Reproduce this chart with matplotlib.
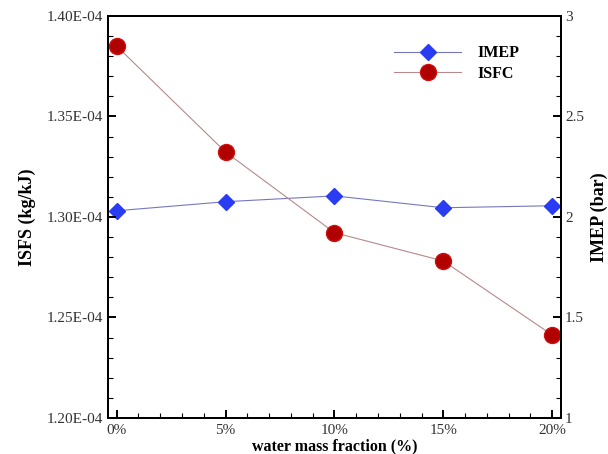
import matplotlib.pyplot as plt
from matplotlib.ticker import MultipleLocator, FuncFormatter

# Water mass fraction (%) and measured results
water_frac = [0, 5, 10, 15, 20]
isfc = [1.385e-4, 1.3323e-4, 1.2922e-4, 1.2781e-4, 1.2413e-4]   # kg/kJ
imep = [2.031, 2.076, 2.105, 2.046, 2.056]                       # bar

plt.rcParams['font.family'] = ['Liberation Serif', 'DejaVu Serif']

fig = plt.figure(figsize=(6.08, 4.54), dpi=100)
ax1 = fig.add_axes([0.1776, 0.0793, 0.745, 0.8855])
ax2 = ax1.twinx()

l1, = ax2.plot(water_frac, imep, '-', color='#7478c0', lw=0.8,
               marker='D', ms=8.5, mfc='#2a3cf2', mec='#2a3cf2', label='IMEP')
l2, = ax1.plot(water_frac, isfc, '-', color='#b58a8a', lw=0.8,
               marker='o', ms=11.5, mfc='#b00000', mec='#d01010', label='ISFC')
ax1.set_zorder(ax2.get_zorder() + 1)
ax1.patch.set_visible(False)

ax1.set_xlim(-0.4, 20.4)
ax1.set_ylim(1.20e-4, 1.40e-4)
ax2.set_ylim(1, 3)

ax1.xaxis.set_major_locator(MultipleLocator(5))
ax1.xaxis.set_minor_locator(MultipleLocator(1))
ax1.xaxis.set_major_formatter(FuncFormatter(lambda v, p: f'{v:.0f}%'))
ax1.yaxis.set_major_locator(MultipleLocator(0.05e-4))
ax1.yaxis.set_minor_locator(MultipleLocator(0.01e-4))
ax1.yaxis.set_major_formatter(FuncFormatter(lambda v, p: f'{v:.2E}'))
ax2.yaxis.set_major_locator(MultipleLocator(0.5))
ax2.yaxis.set_minor_locator(MultipleLocator(0.1))
ax2.yaxis.set_major_formatter(FuncFormatter(lambda v, p: f'{v:g}'))

for ax in (ax1, ax2):
    for s in ax.spines.values():
        s.set_linewidth(1.4)
    ax.tick_params(which='major', direction='in', length=6, width=1.4,
                   labelsize=11, colors='black', labelcolor='#333333')
    ax.tick_params(which='minor', direction='in', length=3.5, width=0.8)
ax1.tick_params(axis='y', which='both', right=False)
ax1.tick_params(axis='x', which='both', top=False, pad=4)
ax2.tick_params(axis='y', which='both', left=False, pad=3)

ax1.set_xlabel('water mass fraction (%)', fontsize=11.5, fontweight='bold', labelpad=1.5)
ax1.set_ylabel('ISFS (kg/kJ)', fontsize=13, fontweight='bold', labelpad=8)
ax2.set_ylabel('IMEP (bar)', fontsize=13, fontweight='bold', labelpad=5)

leg = ax1.legend(handles=[l1, l2], loc='upper left', bbox_to_anchor=(0.6, 0.963),
                 frameon=False, prop={'weight': 'bold', 'size': 11.5},
                 handlelength=4.2, labelspacing=0.28, handletextpad=1.0)

fig.savefig('out.png', dpi=100)
